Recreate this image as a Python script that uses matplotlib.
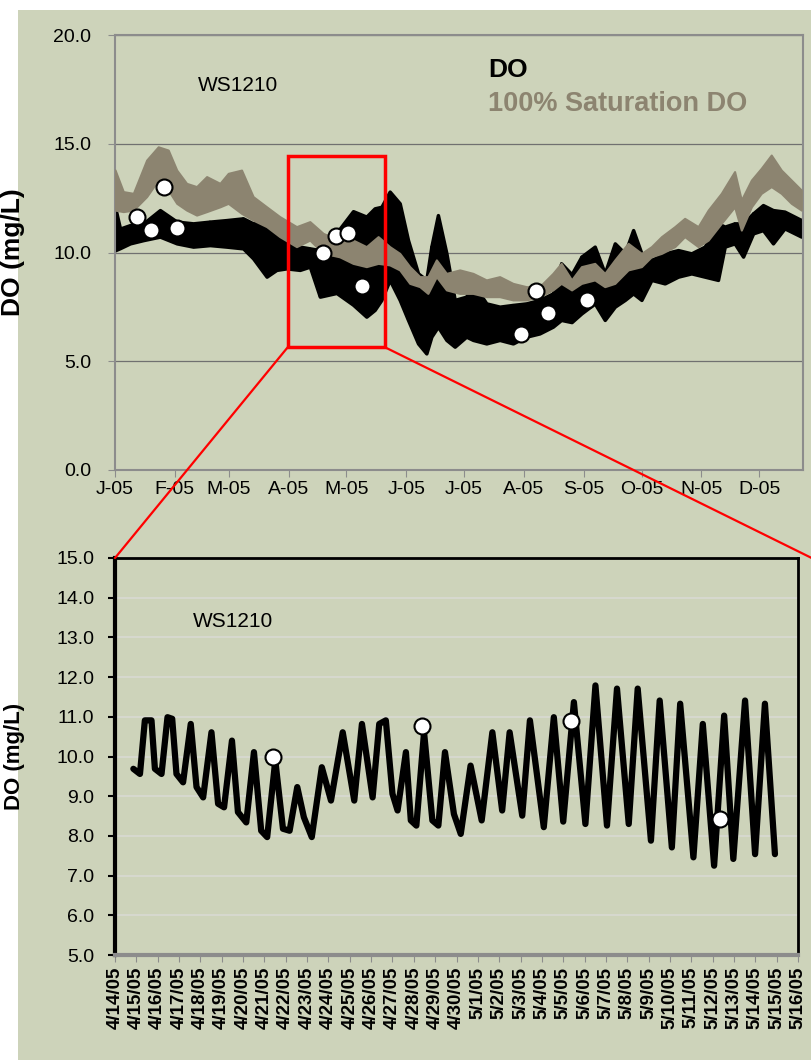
import numpy as np
import matplotlib
matplotlib.use('Agg')
import matplotlib.pyplot as plt
import matplotlib.dates as mdates
from matplotlib.ticker import FuncFormatter, MultipleLocator
from matplotlib.patches import Rectangle, ConnectionPatch

plt.rcParams['font.family'] = ['Liberation Sans', 'DejaVu Sans']

# ---- top panel: year 2005, days since Jan 1 (envelope of the continuous record) ----
do_days = [0, 2.6, 7.8, 14.7, 23.3, 32.0, 40.5, 49.2, 57.8, 66.4, 71.6, 78.6, 83.7, 88.9, 95.8,
           101.0, 106.2, 114.8, 123.4, 130.3, 134.6, 138.1, 142.4, 147.6, 151.9, 157.1, 161.4, 164.0,
           167.4, 171.8, 176.1, 182.1, 185.6, 192.5, 199.4, 206.3, 213.2, 220.1, 227.0, 231.3, 236.7,
           241.8, 248.7, 253.9, 259.1, 264.3, 268.6, 272.9, 278.1, 285.0, 291.9, 298.8, 305.7, 312.6,
           316.1, 321.2, 325.6, 330.8, 335.9, 341.1, 347.1, 355.8]
do_hi = [12.1, 11.1, 11.26, 11.34, 11.95, 11.42, 11.34, 11.42, 11.49, 11.57, 11.34, 11.49, 10.96, 10.73,
         10.27, 10.19, 10.11, 10.9, 11.9, 11.65, 12.03, 12.1, 12.8, 12.26, 10.57, 9.04, 8.74, 10.27, 11.72,
         9.96, 7.82, 7.97, 8.58, 7.66, 7.51, 7.59, 7.66, 7.82, 8.12, 9.5, 9.0, 9.81, 10.27, 9.04, 10.42,
         9.96, 11.03, 9.96, 9.66, 9.96, 10.11, 9.96, 10.27, 11.34, 11.19, 11.34, 11.34, 11.8, 12.18, 11.95,
         11.88, 11.49]
do_lo = [10.1, 10.2, 10.42, 10.57, 10.73, 10.42, 10.27, 10.34, 10.27, 10.19, 9.73, 8.89, 9.2, 9.27, 9.2,
         9.35, 7.97, 8.14, 7.6, 7.05, 7.36, 7.82, 8.74, 7.82, 6.9, 5.82, 5.36, 6.13, 6.59, 5.98, 5.67, 6.13,
         5.98, 5.82, 5.98, 5.82, 6.13, 6.28, 6.59, 6.9, 6.8, 7.2, 7.66, 6.9, 7.51, 7.82, 8.12, 7.82, 8.74,
         8.58, 8.89, 9.04, 8.89, 8.74, 10.27, 10.42, 9.81, 10.88, 11.03, 10.42, 11.11, 10.73]

sat_days = [0, 4.3, 9.5, 16.4, 22.4, 27.6, 32.0, 37.1, 42.3, 47.5, 54.4, 58.7, 65.6, 71.6, 78.6, 85.4,
            94.1, 101.0, 107.9, 116.5, 123.4, 130.3, 136.4, 142.4, 147.6, 152.8, 158.0, 162.2, 166.6,
            171.8, 178.7, 185.6, 192.5, 199.4, 206.3, 213.2, 220.1, 227.0, 231.3, 236.7, 241.8, 248.7,
            253.9, 259.1, 266.0, 272.9, 278.1, 283.3, 290.2, 295.3, 302.3, 307.5, 314.3, 321.2, 324.7,
            329.9, 335.0, 340.2, 345.4, 350.6, 355.8]
sat_hi = [13.8, 12.8, 12.72, 14.25, 14.86, 14.71, 13.79, 13.18, 13.03, 13.49, 13.18, 13.64, 13.79, 12.57,
          12.1, 11.65, 11.19, 11.42, 10.88, 10.55, 10.57, 10.27, 10.73, 10.27, 9.96, 9.35, 8.89, 8.89, 9.66,
          9.04, 9.2, 9.04, 8.74, 8.89, 8.58, 8.43, 8.43, 9.04, 9.5, 8.74, 9.35, 9.5, 9.04, 9.66, 10.42, 9.96,
          10.27, 10.73, 11.19, 11.57, 11.19, 11.95, 12.72, 13.72, 12.41, 13.33, 13.87, 14.48, 13.79, 13.33,
          12.87]
sat_lo = [11.95, 11.88, 11.95, 12.57, 13.33, 12.87, 12.26, 11.95, 11.72, 11.88, 12.1, 12.26, 11.8, 11.49,
          11.19, 10.73, 10.27, 10.57, 9.97, 9.8, 9.5, 9.35, 9.5, 9.43, 9.2, 8.58, 8.43, 8.12, 8.89, 8.28,
          8.12, 8.12, 7.97, 7.97, 7.82, 7.82, 7.97, 8.28, 8.58, 8.28, 8.58, 8.74, 8.43, 8.58, 9.2, 9.35,
          9.81, 9.96, 10.27, 10.73, 10.27, 10.57, 11.34, 12.1, 11.03, 12.1, 12.72, 13.03, 12.72, 12.26, 11.95]

grab_days = [11.4, 18.6, 25.4, 32.1, 107.7, 114.4, 121.0, 128.3, 210.6, 218.0, 224.4, 244.9]
grab_do = [11.63, 11.03, 13.01, 11.13, 9.98, 10.76, 10.9, 8.46, 6.24, 8.23, 7.23, 7.82]

# zoom box drawn on the top panel: start day, end day, low, high
box = [89.6, 139.8, 5.65, 14.45]

# ---- bottom panel: days since 4/14/05 ----
zoom_days = [0.86, 1.17, 1.40, 1.71, 1.87, 2.18, 2.46, 2.68, 2.88, 3.19, 3.55, 3.82, 4.13, 4.52, 4.83,
             5.11, 5.48, 5.76, 6.15, 6.51, 6.85, 7.13, 7.51, 7.87, 8.18, 8.54, 8.85, 9.22, 9.69, 10.12,
             10.67, 11.21, 11.57, 12.07, 12.38, 12.69, 13.0, 13.24, 13.63, 13.86, 14.12, 14.48, 14.87,
             15.15, 15.46, 15.88, 16.2, 16.66, 17.18, 17.68, 18.14, 18.49, 19.08, 19.44, 20.09, 20.56,
             21.0, 21.5, 22.04, 22.51, 23.05, 23.52, 24.07, 24.49, 25.11, 25.52, 26.09, 26.48, 27.1,
             27.54, 28.07, 28.54, 28.97, 29.52, 29.99, 30.45, 30.92]
zoom_do = [9.69, 9.56, 10.91, 10.91, 9.69, 9.56, 10.99, 10.95, 9.56, 9.35, 10.82, 9.23, 8.97, 10.61, 8.81,
           8.72, 10.4, 8.6, 8.34, 10.11, 8.13, 7.97, 9.9, 8.18, 8.13, 9.23, 8.47, 7.97, 9.73, 8.89, 10.61,
           8.89, 10.82, 8.97, 10.82, 10.91, 9.06, 8.64, 10.11, 8.39, 8.26, 10.61, 8.39, 8.26, 10.11, 8.55,
           8.05, 9.77, 8.39, 10.61, 8.64, 10.61, 8.51, 10.91, 8.22, 10.99, 8.36, 11.37, 8.3, 11.79, 8.26,
           11.71, 8.3, 11.71, 7.88, 11.41, 7.71, 11.33, 7.46, 10.82, 7.25, 11.03, 7.42, 11.41, 7.54, 11.33,
           7.54]
zoom_grab_days = [7.38, 14.37, 21.36, 28.35]
zoom_grab_do = [10.0, 10.76, 10.9, 8.43]

year0 = np.datetime64('2005-01-01T00:00')
apr14 = np.datetime64('2005-04-14T00:00')


def to_dates(start, days):
    return start + (np.array(days) * 24 * 60).astype(int).astype('timedelta64[m]')


bg = '#CDD3BA'
sat_col = '#8C8470'
spine_gray = '#8C8C8C'

fig = plt.figure(figsize=(8.12, 10.6), dpi=100, facecolor='white')
fig.add_artist(Rectangle((18 / 812, 0), 1, 1 - 10 / 1060, transform=fig.transFigure,
                         facecolor=bg, edgecolor='none', zorder=-10))

# top panel
ax1 = fig.add_axes([115 / 812, 1 - 470 / 1060, 688 / 812, 435 / 1060])
ax1.set_facecolor(bg)
t_do = to_dates(year0, do_days)
t_sat = to_dates(year0, sat_days)
ax1.fill_between(t_do, do_lo, do_hi, color='black', lw=2.5, zorder=2)
ax1.plot(t_do, [h if i % 2 else l for i, (h, l) in enumerate(zip(do_hi, do_lo))],
         color='black', lw=1.5, zorder=2)
ax1.fill_between(t_sat, sat_lo, sat_hi, color=sat_col, lw=1.5, zorder=3)
ax1.plot(to_dates(year0, grab_days), grab_do, 'o', ms=11.5, mfc='white', mec='black', mew=1.5, zorder=4)
ax1.set_ylim(0, 20)
ax1.yaxis.set_major_locator(MultipleLocator(5))
ax1.yaxis.set_major_formatter(FuncFormatter(lambda v, p: '%.1f' % v))
ax1.set_xlim(year0, year0 + np.timedelta64(int(356.7 * 24), 'h'))
ax1.xaxis.set_major_locator(mdates.MonthLocator())
ax1.xaxis.set_major_formatter(FuncFormatter(
    lambda v, p: mdates.num2date(v).strftime('%b')[0] + mdates.num2date(v).strftime('-%y')))
ax1.grid(axis='y', color='#707070', lw=0.9)
ax1.set_axisbelow(True)
for s in ax1.spines.values():
    s.set_color(spine_gray)
    s.set_linewidth(1.5)
ax1.tick_params(direction='out', length=5, color=spine_gray, labelsize=14, pad=3)
ax1.tick_params(axis='y', pad=12)
ax1.set_ylabel('DO (mg/L)', fontsize=19, fontweight='bold')
ax1.yaxis.set_label_coords(-0.131, 0.5)
ax1.text(0.121, 0.885, 'WS1210', transform=ax1.transAxes, fontsize=15, va='center')
ax1.text(0.542, 0.92, 'DO', transform=ax1.transAxes, fontsize=19, fontweight='bold', va='center')
ax1.text(0.542, 0.841, '100% Saturation DO', transform=ax1.transAxes, fontsize=19.5,
         fontweight='bold', color=sat_col, va='center')

b0 = mdates.date2num(to_dates(year0, [box[0]])[0])
b1 = mdates.date2num(to_dates(year0, [box[1]])[0])
ax1.add_patch(Rectangle((b0, box[2]), b1 - b0, box[3] - box[2], fill=False, ec='red', lw=2.5,
                        zorder=5, clip_on=False))

# bottom panel
ax2 = fig.add_axes([115 / 812, 1 - 955 / 1060, 683 / 812, 397 / 1060])
ax2.set_facecolor(bg)
ax2.plot(to_dates(apr14, zoom_days), zoom_do, color='black', lw=4.5, solid_joinstyle='round',
         solid_capstyle='round', zorder=3)
ax2.plot(to_dates(apr14, zoom_grab_days), zoom_grab_do, 'o', ms=11.5, mfc='white', mec='black',
         mew=1.5, zorder=4)
ax2.set_ylim(5, 15)
ax2.yaxis.set_major_locator(MultipleLocator(1))
ax2.yaxis.set_major_formatter(FuncFormatter(lambda v, p: '%.1f' % v))
ax2.set_xlim(apr14, apr14 + np.timedelta64(32, 'D'))
ax2.xaxis.set_major_locator(mdates.DayLocator())
ax2.xaxis.set_major_formatter(FuncFormatter(
    lambda v, p: '%d/%d/%s' % (mdates.num2date(v).month, mdates.num2date(v).day,
                               mdates.num2date(v).strftime('%y'))))
ax2.grid(axis='y', color='#D9DAD3', lw=1.2)
ax2.set_axisbelow(True)
for k in ['top', 'right']:
    ax2.spines[k].set_color('black')
    ax2.spines[k].set_linewidth(2)
ax2.spines['left'].set_color('black')
ax2.spines['left'].set_linewidth(3)
ax2.spines['bottom'].set_color(spine_gray)
ax2.spines['bottom'].set_linewidth(3)
ax2.tick_params(axis='y', direction='out', length=5, width=1.5, color='black', labelsize=14, pad=10)
ax2.tick_params(axis='x', direction='out', length=5, color=spine_gray, labelsize=13.5, rotation=90)
for lab in ax2.get_xticklabels():
    lab.set_fontweight('bold')
ax2.set_ylabel('DO (mg/L)', fontsize=16, fontweight='bold')
ax2.yaxis.set_label_coords(-0.132, 0.5)
ax2.text(0.114, 0.839, 'WS1210', transform=ax2.transAxes, fontsize=15, va='center')

# red lines from the box to the zoomed panel
for xa, xb in [(b0, 0.0), (b1, 1.02)]:
    con = ConnectionPatch(xyA=(xa, box[2]), coordsA=ax1.transData, xyB=(xb, 1.0),
                          coordsB=ax2.transAxes, color='red', lw=1.6, zorder=6)
    fig.add_artist(con)

fig.savefig('out.png', dpi=100, facecolor=fig.get_facecolor())
